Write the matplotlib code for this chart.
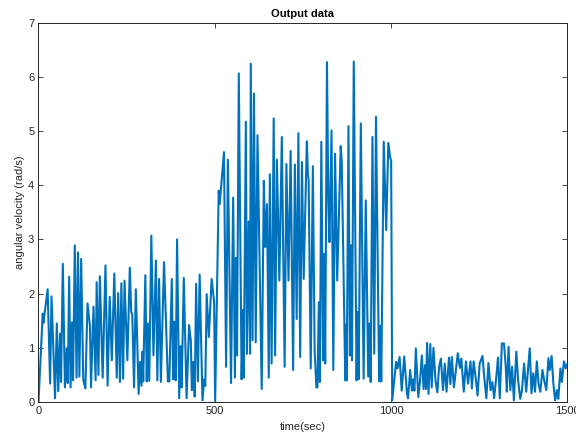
import matplotlib.pyplot as plt

# time (sec) and angular velocity (rad/s) at the turning points
t_low = [0, 12, 14, 26, 33, 37, 47, 52, 56, 61, 64, 69, 75, 80, 83, 87, 91, 95, 98,
         103, 108, 112, 116, 121, 127, 133, 139, 146, 149, 156, 162, 165, 170, 174,
         182, 190, 196, 202, 208, 215, 222, 226, 231, 235, 240, 244, 252, 259, 263,
         266, 271, 276, 284, 288, 292, 295, 297, 303, 307, 310, 314, 320, 326, 333,
         337, 342, 347, 356, 367, 371, 378, 382, 385, 389, 393, 399, 403, 406, 412,
         420, 427, 432, 435, 439, 443, 447, 452, 457, 465, 470, 473, 477, 483, 491,
         498, 501]
v_low = [0, 1.63, 1.46, 2.08, 0.34, 1.95, 0.07, 1.45, 0.2, 1.26, 0.37, 2.55, 0.27,
         0.99, 0.35, 2.31, 0.27, 1.47, 0.4, 2.89, 0.45, 2.76, 0.47, 2.64, 0.41, 0.25,
         1.82, 1.4, 0.27, 1.76, 0.4, 2.21, 0.5, 2.32, 0.45, 2.52, 0.3, 1.94, 0.77,
         2.37, 0.45, 2.01, 0.37, 2.19, 0.43, 2.24, 0.77, 2.48, 1.66, 1.62, 0.27, 2.08,
         0.15, 0.74, 0.3, 0.93, 0.38, 2.34, 0.38, 1.45, 0.39, 3.07, 0.86, 2.61, 0.4,
         2.27, 0.37, 2.58, 0.38, 0.38, 2.27, 0.42, 1.48, 0.4, 3.0, 0.07, 1.03, 0.27,
         2.29, 0.07, 1.42, 1.13, 0.22, 0.74, 0.1, 2.18, 0.38, 2.35, 0.03, 0.42, 0.3,
         1.99, 1.2, 2.27, 1.84, 0.0]

t_high = [511, 514, 517, 526, 532, 537, 546, 552, 557, 560, 563, 568, 576, 580, 582,
          588, 591, 596, 600, 602, 607, 611, 616, 621, 633, 639, 643, 648, 653, 656,
          661, 667, 671, 676, 683, 690, 698, 703, 709, 715, 722, 727, 732, 737, 742,
          747, 752, 761, 764, 766, 772, 778, 783, 788, 791, 795, 798, 802, 807, 810,
          813, 818, 822, 825, 831, 836, 841, 847, 857, 860, 870, 873, 874, 879, 883,
          886, 889, 894, 902, 905, 908, 914, 922, 928, 935, 939, 942, 947, 952, 957,
          966, 969, 972, 979, 986, 992, 997, 1000, 1003]
v_high = [3.9, 3.65, 3.9, 4.61, 0.65, 4.47, 0.35, 3.77, 0.45, 2.66, 0.86, 6.06, 0.42,
          1.7, 0.45, 5.17, 0.89, 3.33, 0.89, 6.24, 1.14, 5.69, 1.1, 4.92, 0.24, 4.08,
          2.86, 3.65, 0.45, 4.2, 0.71, 5.23, 0.86, 4.47, 2.24, 4.89, 0.65, 4.39, 2.24,
          4.63, 0.59, 4.38, 1.53, 4.96, 0.83, 4.43, 2.27, 4.81, 4.2, 4.1, 0.62, 4.35,
          0.96, 0.27, 0.27, 1.84, 0.37, 4.8, 0.77, 2.73, 0.71, 6.27, 3.7, 2.95, 5.01,
          0.59, 4.58, 2.24, 4.72, 4.42, 0.4, 1.43, 0.4, 5.09, 0.86, 2.89, 0.77, 6.28,
          0.4, 1.66, 0.42, 5.14, 0.43, 3.72, 0.47, 1.45, 0.37, 4.89, 0.89, 5.26, 0.38,
          1.4, 0.38, 4.8, 3.17, 4.78, 4.52, 4.45, 0.03]

t_tail = [1014, 1018, 1024, 1030, 1037, 1045, 1048, 1054, 1059, 1062, 1066, 1070, 1077,
          1082, 1087, 1092, 1096, 1099, 1102, 1106, 1111, 1115, 1120, 1126, 1131, 1136,
          1141, 1145, 1147, 1152, 1157, 1164, 1168, 1172, 1178, 1189, 1195, 1199, 1206,
          1212, 1218, 1225, 1229, 1234, 1240, 1245, 1251, 1259, 1264, 1270, 1276, 1282,
          1287, 1292, 1299, 1303, 1308, 1314, 1320, 1325, 1328, 1333, 1338, 1343, 1348,
          1355, 1360, 1366, 1371, 1377, 1383, 1388, 1393, 1398, 1403, 1408, 1413, 1418,
          1423, 1429, 1434, 1440, 1446, 1450, 1455, 1460, 1465, 1470, 1474, 1480, 1484,
          1490, 1495, 1500]
v_tail = [0.74, 0.62, 0.83, 0.21, 0.84, 0.15, 0.07, 0.59, 0.21, 0.42, 0.21, 0.99, 0.09,
          0.4, 0.86, 0.24, 0.68, 0.24, 1.09, 0.15, 1.07, 0.27, 1.0, 0.38, 0.18, 0.65,
          0.8, 0.4, 0.22, 0.71, 0.19, 0.82, 0.33, 0.83, 0.27, 0.9, 0.63, 0.8, 0.19,
          0.75, 0.34, 0.75, 0.25, 0.75, 0.43, 0.12, 0.71, 0.85, 0.46, 0.07, 0.72, 0.22,
          0.37, 0.07, 0.52, 0.82, 0.07, 1.08, 1.08, 0.65, 0.19, 1.02, 0.22, 0.65, 0.03,
          0.93, 0.4, 0.06, 0.22, 0.71, 0.19, 0.59, 0.99, 0.16, 0.53, 0.19, 0.75, 0.34,
          0.19, 0.59, 0.4, 0.22, 0.81, 0.59, 0.85, 0.34, 0.03, 0.22, 0.06, 0.62, 0.37,
          0.75, 0.62, 0.71]

time = t_low + t_high + t_tail
omega = v_low + v_high + v_tail

plt.rcParams['font.family'] = ['Liberation Sans', 'DejaVu Sans']
dark = '#262626'

fig = plt.figure(figsize=(5.76, 4.37), dpi=100)
ax = fig.add_axes([0.0668, 0.080, 0.9184, 0.8685])
ax.plot(time, omega, color='#0072BD', linewidth=1.5)

ax.set_xlim(0, 1500)
ax.set_ylim(0, 7)
ax.set_xticks([0, 500, 1000, 1500])
ax.set_yticks(range(0, 8))
ax.tick_params(direction='in', top=True, right=True, length=3.6, width=0.6,
               labelsize=8, colors=dark, pad=3)
for s in ax.spines.values():
    s.set_color(dark)
    s.set_linewidth(0.7)

ax.set_title('Output data', fontsize=8, fontweight='bold', color='black', pad=4)
ax.set_xlabel('time(sec)', fontsize=8, color=dark, labelpad=4)
ax.set_ylabel('angular velocity (rad/s)', fontsize=8, color=dark, labelpad=2)

fig.savefig('out.png', dpi=100)
